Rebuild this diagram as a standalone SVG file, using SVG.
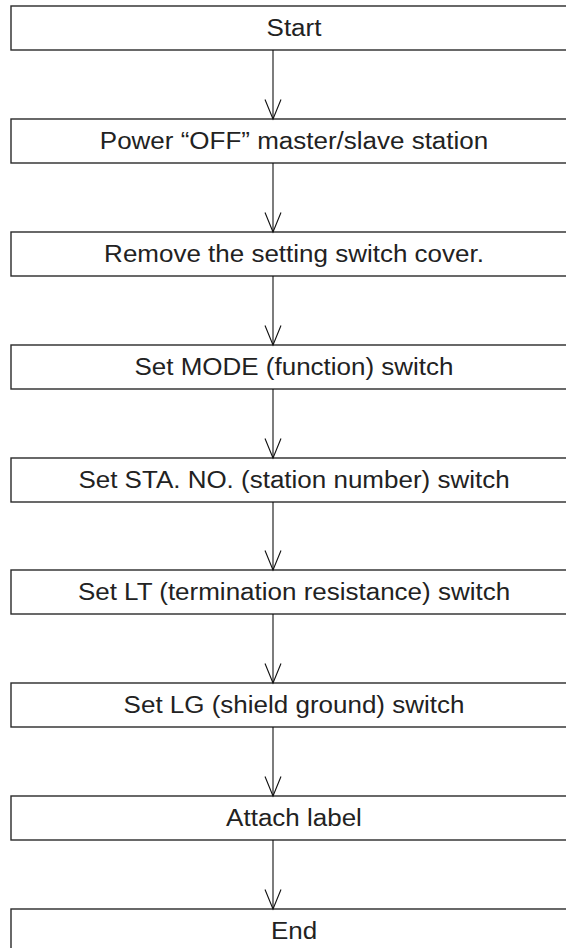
<svg xmlns="http://www.w3.org/2000/svg" width="566" height="948" viewBox="0 0 566 948">
<style>
rect{fill:#fff;stroke:#2a2a2a;stroke-width:1.4}
text{font-family:"Liberation Sans",Arial,sans-serif;font-size:23px;fill:#222;text-anchor:middle}
.c line{stroke:#111;stroke-width:1.1}
.c path{fill:none;stroke:#111;stroke-width:1.1}
</style>
<rect x="0" y="0" width="566" height="948" style="fill:#fff;stroke:none"/>
<g id="n1"><rect x="11" y="6" width="580" height="44"/><text transform="translate(294,35.5) scale(1.13,1)">Start</text></g>
<g id="n2"><rect x="11" y="119" width="580" height="44"/><text transform="translate(294,149) scale(1.13,1)">Power “OFF” master/slave station</text></g>
<g id="n3"><rect x="11" y="232" width="580" height="44"/><text transform="translate(294,262) scale(1.13,1)">Remove the setting switch cover.</text></g>
<g id="n4"><rect x="11" y="345" width="580" height="44"/><text transform="translate(294,375) scale(1.13,1)">Set MODE (function) switch</text></g>
<g id="n5"><rect x="11" y="458" width="580" height="44"/><text transform="translate(294,488) scale(1.13,1)">Set STA. NO. (station number) switch</text></g>
<g id="n6"><rect x="11" y="570" width="580" height="44"/><text transform="translate(294,600) scale(1.13,1)">Set LT (termination resistance) switch</text></g>
<g id="n7"><rect x="11" y="683" width="580" height="44"/><text transform="translate(294,713) scale(1.13,1)">Set LG (shield ground) switch</text></g>
<g id="n8"><rect x="11" y="796" width="580" height="44"/><text transform="translate(294,826) scale(1.13,1)">Attach label</text></g>
<g id="n9"><rect x="11" y="909" width="580" height="60"/><text transform="translate(294,939) scale(1.13,1)">End</text></g>
<g class="c" id="connectors">
<line x1="273" y1="50" x2="273" y2="119"/><path d="M265,99.5 L273,119 L281,99.5"/>
<line x1="273" y1="163" x2="273" y2="232"/><path d="M265,212.5 L273,232 L281,212.5"/>
<line x1="273" y1="276" x2="273" y2="345"/><path d="M265,325.5 L273,345 L281,325.5"/>
<line x1="273" y1="389" x2="273" y2="458"/><path d="M265,438.5 L273,458 L281,438.5"/>
<line x1="273" y1="502" x2="273" y2="570"/><path d="M265,550.5 L273,570 L281,550.5"/>
<line x1="273" y1="614" x2="273" y2="683"/><path d="M265,663.5 L273,683 L281,663.5"/>
<line x1="273" y1="727" x2="273" y2="796"/><path d="M265,776.5 L273,796 L281,776.5"/>
<line x1="273" y1="840" x2="273" y2="909"/><path d="M265,889.5 L273,909 L281,889.5"/>
</g>
</svg>
